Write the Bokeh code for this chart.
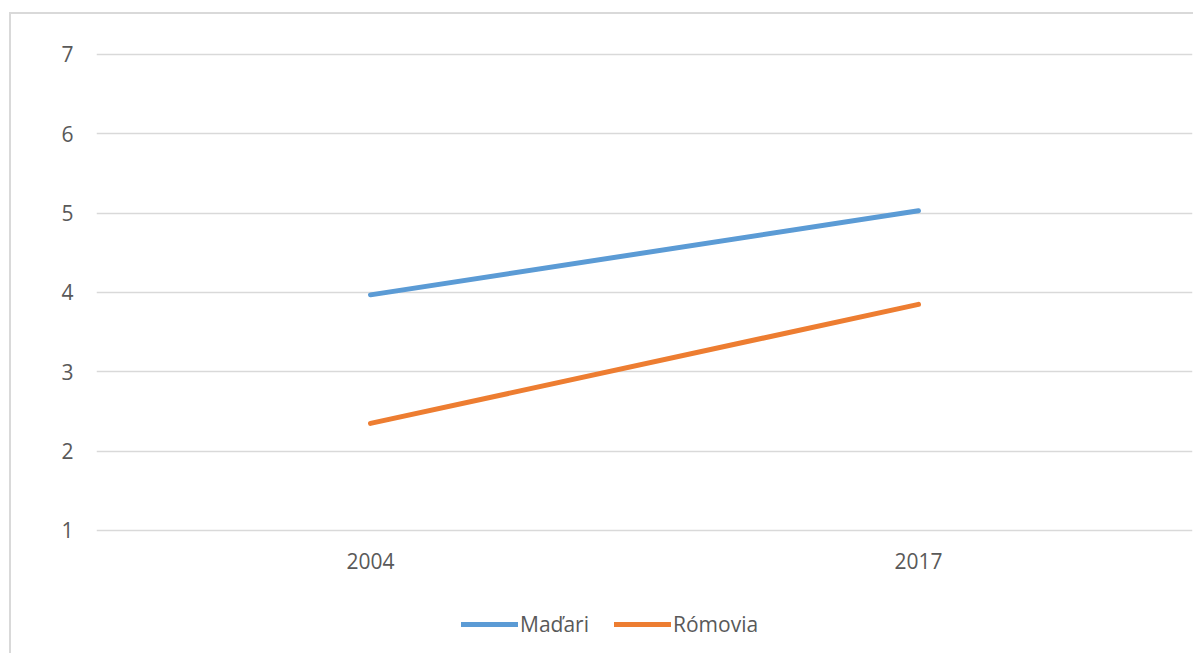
from bokeh.plotting import figure
from bokeh.models import Range1d, FactorRange, Legend, LegendItem, Column, FixedTicker
from bokeh.embed import file_html
from bokeh.resources import INLINE

# Data
years = ["2004", "2017"]
madari = [3.97, 5.03]
romovia = [2.35, 3.85]
series_names = ["Maďari", "Rómovia"]
y_ticks = [1, 2, 3, 4, 5, 6, 7]

TEXT = "#595959"
GRID = "#D9D9D9"
FONT = "Open Sans"
FONT_SIZE = "21px"

# The plot frame reaches down to the legend row; the value axis runs 1..7
# in its upper part and the category axis is pinned just under the value 1.
p = figure(
    width=1182, height=639,
    frame_width=1096, frame_height=601,
    x_range=FactorRange(*years, range_padding=0),
    y_range=Range1d(-0.551, 7.025),
    output_backend="svg", toolbar_location=None,
    min_border_left=85, min_border_right=1,
    min_border_top=38, min_border_bottom=0,
)
p.outline_line_color = None
p.background_fill_color = "white"
p.border_fill_color = "white"

r1 = p.line(years, madari, line_color="#5B9BD5", line_width=5, line_cap="round")
r2 = p.line(years, romovia, line_color="#ED7D31", line_width=5, line_cap="round")

# Axes
p.yaxis.ticker = FixedTicker(ticks=y_ticks)
for ax in (p.xaxis[0], p.yaxis[0]):
    ax.axis_line_color = None
    ax.major_tick_line_color = None
    ax.minor_tick_line_color = None
    ax.major_tick_out = 0
    ax.major_tick_in = 0
    ax.major_label_text_color = TEXT
    ax.major_label_text_font = FONT
    ax.major_label_text_font_size = FONT_SIZE
p.yaxis.major_label_standoff = 23
p.xaxis.fixed_location = 0.72
p.xaxis.major_label_standoff = 0

p.xgrid.grid_line_color = None
p.ygrid.grid_line_color = GRID
p.ygrid.grid_line_width = 1.5

legend = Legend(
    items=[LegendItem(label=series_names[0], renderers=[r1]),
           LegendItem(label=series_names[1], renderers=[r2])],
    orientation="horizontal",
    location=(365, 15),
    padding=0, margin=0, spacing=25,
    glyph_width=57, glyph_height=16, label_standoff=2,
    label_text_font=FONT, label_text_font_size=FONT_SIZE,
    label_text_color=TEXT,
    border_line_color=None, background_fill_alpha=0,
)
p.add_layout(legend, "center")

layout = Column(
    p,
    margin=(12, 0, 0, 9),
    styles={"border-left": "2px solid #D9D9D9", "border-top": "2px solid #D9D9D9"},
)

open("out.html", "w").write(file_html(layout, INLINE))
